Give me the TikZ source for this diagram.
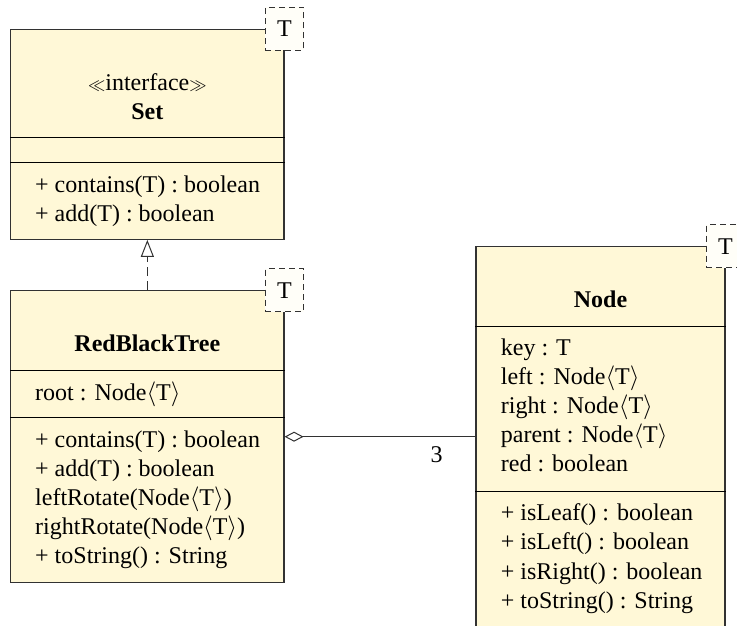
\documentclass[tikz,border=0pt]{standalone}
\usepackage{fontspec}
\setmainfont{Liberation Serif}
\usetikzlibrary{arrows.meta}
\definecolor{classfill}{RGB}{255,248,215}
\definecolor{tplfill}{RGB}{255,254,248}
\definecolor{umlline}{RGB}{50,50,50}
\newcommand{\stsym}[1]{{\fontsize{19}{22}\selectfont$#1$}}
\begin{document}
\begin{tikzpicture}[x=1pt,y=-1pt,
  classbox/.style={draw=umlline, line width=1.1pt, fill=classfill, inner sep=0pt, rectangle},
  tplbox/.style={draw=umlline, line width=1pt, dash pattern=on 6pt off 4pt, fill=tplfill,
     minimum width=38.3pt, minimum height=42.7pt, inner sep=0pt, font=\fontsize{24}{29}\selectfont},
  sepline/.style={draw=black, line width=1pt},
  txt/.style={inner sep=0pt, anchor=base west, font=\fontsize{24}{29}\selectfont},
  ttl/.style={inner sep=0pt, anchor=base, font=\fontsize{24}{29}\selectfont}]
\useasboundingbox (0,0) rectangle (737,626);
\clip (0,0) rectangle (737,626);

% class boxes
\node[classbox, minimum width=273.3pt, minimum height=210pt] (set) at (147.35,134.3) {};
\node[classbox, minimum width=273.3pt, minimum height=292pt] (rbt) at (147.35,436.7) {};
\node[classbox, minimum width=249pt, minimum height=393.3pt] (nodebox) at (600.5,443.35) {};

% compartment separators
\coordinate (s1) at (0,137.3);
\coordinate (s2) at (0,162.7);
\coordinate (r1) at (0,370);
\coordinate (r2) at (0,417.7);
\coordinate (n1) at (0,326.7);
\coordinate (n2) at (0,491);
\draw[sepline] (set.west |- s1) -- (set.east |- s1);
\draw[sepline] (set.west |- s2) -- (set.east |- s2);
\draw[sepline] (rbt.west |- r1) -- (rbt.east |- r1);
\draw[sepline] (rbt.west |- r2) -- (rbt.east |- r2);
\draw[sepline] (nodebox.west |- n1) -- (nodebox.east |- n1);
\draw[sepline] (nodebox.west |- n2) -- (nodebox.east |- n2);

% Set
\node[ttl] (setst) at (147.35,91) {\stsym{\ll}interface\stsym{\gg}};
\node[ttl] (setname) at (147.35,120) {\textbf{Set}};
\node[txt] (setops) at (35,192.3) {\begin{tabular}[t]{@{}l@{}}+ contains(T) : boolean\\[0.6pt]+ add(T) : boolean\end{tabular}};

% RedBlackTree
\node[ttl] (rbtname) at (147.35,351.7) {\textbf{RedBlackTree}};
\node[txt] (rbtattr) at (35,400.3) {root : Node$\langle$T$\rangle$};
\node[txt] (rbtops) at (35,447) {\begin{tabular}[t]{@{}l@{}}+ contains(T) : boolean\\+ add(T) : boolean\\leftRotate(Node$\langle$T$\rangle$)\\rightRotate(Node$\langle$T$\rangle$)\\+ toString() : String\end{tabular}};

% Node
\node[ttl] (nodename) at (600.5,307.3) {\textbf{Node}};
\node[txt] (nodeattr) at (500.7,355) {\begin{tabular}[t]{@{}l@{}}key : T\\left : Node$\langle$T$\rangle$\\right : Node$\langle$T$\rangle$\\parent : Node$\langle$T$\rangle$\\red : boolean\end{tabular}};
\node[txt] (nodeops) at (500.7,520) {\begin{tabular}[t]{@{}l@{}}+ isLeaf() : boolean\\[0.6pt]+ isLeft() : boolean\\[0.6pt]+ isRight() : boolean\\[0.6pt]+ toString() : String\end{tabular}};

% template parameters
\node[tplbox] (settpl) at (set.north east) {T};
\node[tplbox] (rbttpl) at (rbt.north east) {T};
\node[tplbox] (nodetpl) at (nodebox.north east) {T};

% realization
\draw[draw=umlline, line width=1pt, dash pattern=on 9pt off 5pt,
  -{Triangle[open, length=17pt, width=13pt, line width=1pt]}] (rbt.north) -- (set.south);

% aggregation
\coordinate (aggy) at (0,436.7);
\draw[draw=umlline, line width=1pt,
  {Diamond[open, length=19pt, width=10pt, line width=1pt]}-] (rbt.east |- aggy) -- (nodebox.west |- aggy);
\node[ttl] (mult) at (436.7,462.7) {3};
\end{tikzpicture}
\end{document}
